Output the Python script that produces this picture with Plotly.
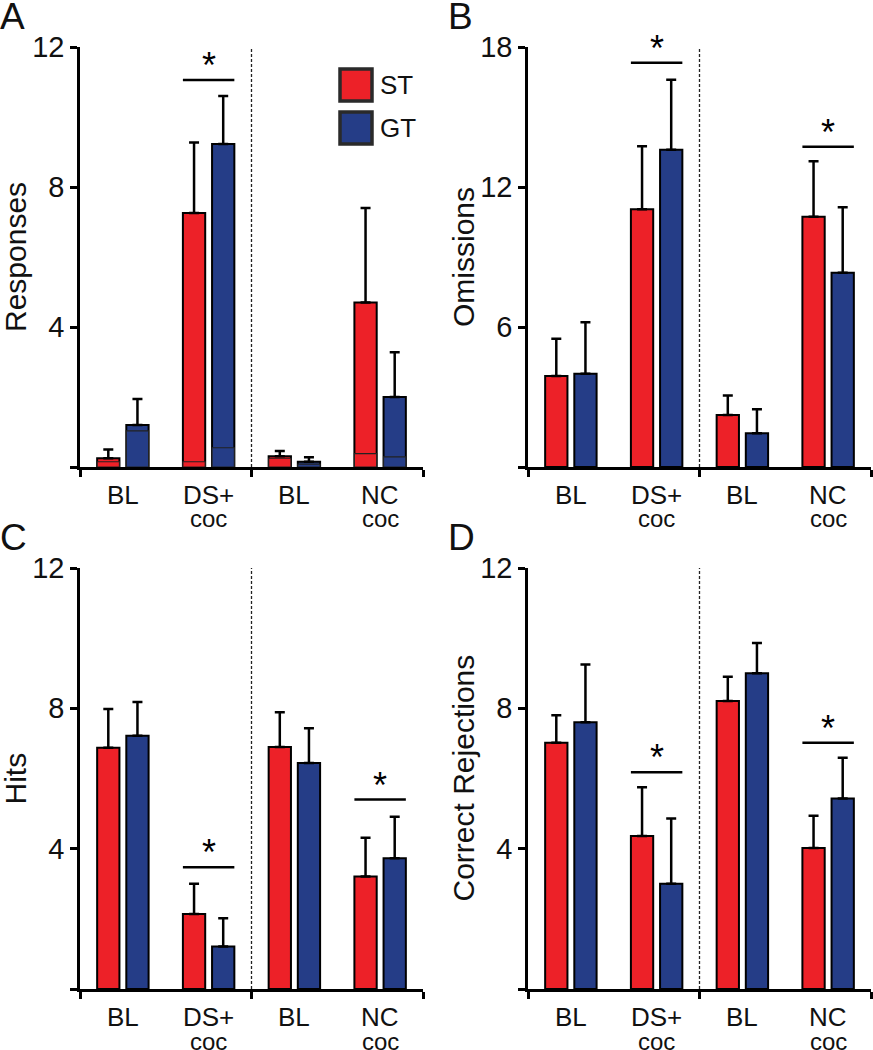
import plotly.graph_objects as go

W, H = 873, 1050
FONT = "Liberation Sans, Arial, Helvetica, sans-serif"
RED = "#ED2128"
BLUE = "#253D87"

# ---------------- data ----------------
group_labels = ["BL", "DS+", "BL", "NC"]
group_sublabels = ["", "coc", "", "coc"]
group_pos = [1, 2, 3, 4]
series_names = ["ST", "GT"]

# Panel A - Responses
A_st = [0.25, 7.26, 0.31, 4.70]
A_st_err = [0.25, 2.01, 0.15, 2.70]
A_gt = [1.20, 9.23, 0.15, 2.00]
A_gt_err = [0.74, 1.37, 0.13, 1.28]
A_st_inner = [0.15, 0.15, 0.25, 0.38]
A_gt_inner = [1.03, 0.55, 0.08, 0.29]
A_sig = [(2, 11.06)]

# Panel B - Omissions
B_st = [3.90, 11.05, 2.23, 10.73]
B_st_err = [1.60, 2.70, 0.83, 2.37]
B_gt = [4.00, 13.60, 1.45, 8.33]
B_gt_err = [2.20, 3.00, 1.02, 2.80]
B_sig = [(2, 17.33), (4, 13.73)]

# Panel C - Hits
C_st = [6.88, 2.14, 6.90, 3.21]
C_st_err = [1.10, 0.86, 0.99, 1.10]
C_gt = [7.22, 1.21, 6.44, 3.73]
C_gt_err = [0.96, 0.81, 0.99, 1.18]
C_sig = [(2, 3.47), (4, 5.40)]

# Panel D - Correct Rejections
D_st = [7.02, 4.36, 8.21, 4.02]
D_st_err = [0.78, 1.39, 0.69, 0.92]
D_gt = [7.60, 3.00, 9.00, 5.43]
D_gt_err = [1.65, 1.86, 0.86, 1.16]
D_sig = [(2, 6.18), (4, 7.02)]

panels = [
    dict(letter="A", title="Responses", st=A_st, st_err=A_st_err, gt=A_gt, gt_err=A_gt_err,
         st_inner=A_st_inner, gt_inner=A_gt_inner, sig=A_sig, ymax=12, dtick=4),
    dict(letter="B", title="Omissions", st=B_st, st_err=B_st_err, gt=B_gt, gt_err=B_gt_err,
         sig=B_sig, ymax=18, dtick=6),
    dict(letter="C", title="Hits", st=C_st, st_err=C_st_err, gt=C_gt, gt_err=C_gt_err,
         sig=C_sig, ymax=12, dtick=4),
    dict(letter="D", title="Correct Rejections", st=D_st, st_err=D_st_err, gt=D_gt, gt_err=D_gt_err,
         sig=D_sig, ymax=12, dtick=4),
]

# pixel boxes of plot areas (left, right, top, bottom)
boxes = [
    (80, 423, 47, 467),
    (528, 871, 47, 467),
    (80, 423, 568, 989),
    (528, 871, 568, 989),
]


def px_x(p):
    return p / W


def px_y(p):
    return 1 - p / H


fig = go.Figure()
shapes = []
annotations = []
layout_axes = {}

BAR_W = 0.26
OFFS = {"ST": -0.30, "GT": 0.04}

for i, (pan, box) in enumerate(zip(panels, boxes)):
    n = i + 1
    xa = "x" if n == 1 else f"x{n}"
    ya = "y" if n == 1 else f"y{n}"
    xkey = "xaxis" if n == 1 else f"xaxis{n}"
    ykey = "yaxis" if n == 1 else f"yaxis{n}"
    l, r, t, b = box

    for name, vals, errs, col in [("ST", pan["st"], pan["st_err"], RED),
                                  ("GT", pan["gt"], pan["gt_err"], BLUE)]:
        fig.add_trace(go.Bar(
            x=group_pos, y=vals, name=name, showlegend=False,
            width=BAR_W, offset=OFFS[name],
            marker=dict(color=col, line=dict(color="black", width=2)),
            error_y=dict(type="data", array=errs, arrayminus=[0] * len(errs),
                         symmetric=False, color="black", thickness=2.5, width=5),
            xaxis=xa, yaxis=ya, cliponaxis=False,
        ))
    if "st_inner" in pan:
        for name, vals, col in [("ST", pan["st_inner"], RED), ("GT", pan["gt_inner"], BLUE)]:
            fig.add_trace(go.Bar(
                x=group_pos, y=vals, showlegend=False,
                width=BAR_W, offset=OFFS[name],
                marker=dict(color=col, line=dict(color="#222222", width=1.2)),
                xaxis=xa, yaxis=ya,
            ))

    ymax = pan["ymax"]
    dt = pan["dtick"]
    tv = [0, dt, 2 * dt, 3 * dt]
    layout_axes[xkey] = dict(
        domain=[px_x(l), px_x(r)], range=[0.5, 4.5], anchor=ya,
        showline=True, linecolor="black", linewidth=2.5,
        tickvals=[0.5, 2.5, 4.5], ticktext=["", "", ""],
        ticks="outside", ticklen=7, tickwidth=2.5, tickcolor="black",
        showgrid=False, zeroline=False, fixedrange=True, automargin=False,
    )
    layout_axes[ykey] = dict(
        domain=[px_y(b), px_y(t)], range=[0, ymax], anchor=xa,
        showline=True, linecolor="black", linewidth=2.5,
        tickvals=tv, ticktext=[""] + [str(v) for v in tv[1:]],
        ticks="outside", ticklen=7, tickwidth=2.5, tickcolor="black",
        tickfont=dict(family=FONT, size=29, color="#111"),
        showgrid=False, zeroline=False, fixedrange=True, automargin=False,
    )

    # dashed separator
    shapes.append(dict(type="line", xref=xa, yref=f"{ya} domain", x0=2.5, x1=2.5, y0=0, y1=1,
                       line=dict(color="#222", width=1.3, dash="3px,2px")))

    # significance bars
    for g, yv in pan["sig"]:
        shapes.append(dict(type="line", xref=xa, yref=ya, x0=g - 0.30, x1=g + 0.30, y0=yv, y1=yv,
                           line=dict(color="black", width=2.5)))
        annotations.append(dict(x=g, y=yv, xref=xa, yref=ya, text="*", showarrow=False,
                                yanchor="bottom", yshift=-8,
                                font=dict(family=FONT, size=36, color="black")))

    # x category labels
    for gp, lab, sub in zip(group_pos, group_labels, group_sublabels):
        annotations.append(dict(x=gp, y=px_y(b + 28), xref=xa, yref="paper", text=lab,
                                showarrow=False, yanchor="middle",
                                font=dict(family=FONT, size=26, color="#111")))
        if sub:
            annotations.append(dict(x=gp, y=px_y(b + 52), xref=xa, yref="paper", text=sub,
                                    showarrow=False, yanchor="middle",
                                    font=dict(family=FONT, size=24, color="#111")))

    # y title
    annotations.append(dict(x=px_x(l - 65), y=px_y((t + b) / 2), xref="paper", yref="paper",
                            text=pan["title"], textangle=-90, showarrow=False,
                            xanchor="center", yanchor="middle",
                            font=dict(family=FONT, size=30, color="#111")))
    # panel letter
    annotations.append(dict(x=px_x(l - 80), y=px_y(t - 47), xref="paper", yref="paper",
                            text=pan["letter"], showarrow=False, xanchor="left", yanchor="top",
                            yshift=6, xshift=-2,
                            font=dict(family=FONT, size=37, color="#111")))

# legend (panel A)
leg_colors = [RED, BLUE]
leg_tops = [68, 111]
for name, col, tp in zip(series_names, leg_colors, leg_tops):
    shapes.append(dict(type="rect", xref="paper", yref="paper",
                       x0=px_x(340), x1=px_x(372), y0=px_y(tp + 33), y1=px_y(tp + 1),
                       fillcolor=col, line=dict(color="#2a2a2a", width=3.5)))
    annotations.append(dict(x=px_x(378), y=px_y(tp + 17), xref="paper", yref="paper",
                            text=name, showarrow=False, xanchor="left", yanchor="middle",
                            font=dict(family=FONT, size=26, color="#111")))

fig.update_layout(
    width=W, height=H, margin=dict(l=0, r=0, t=0, b=0, pad=0, autoexpand=False),
    paper_bgcolor="white", plot_bgcolor="white",
    barmode="overlay", showlegend=False,
    shapes=shapes, annotations=annotations,
    font=dict(family=FONT),
    **layout_axes,
)

# place the figure flush with the top-left corner of the page (no body margin / scrollbars)
fix_page = (
    "document.documentElement.style.margin='0px';"
    "document.body.style.margin='0px';document.body.style.padding='0px';"
    "document.documentElement.style.overflow='hidden';document.body.style.overflow='hidden';"
    "var gd=document.getElementById('{plot_id}');"
    "gd.style.position='absolute';gd.style.left='0px';gd.style.top='0px';"
)

fig.write_html("out.html", post_script=fix_page, config={"displayModeBar": False})
